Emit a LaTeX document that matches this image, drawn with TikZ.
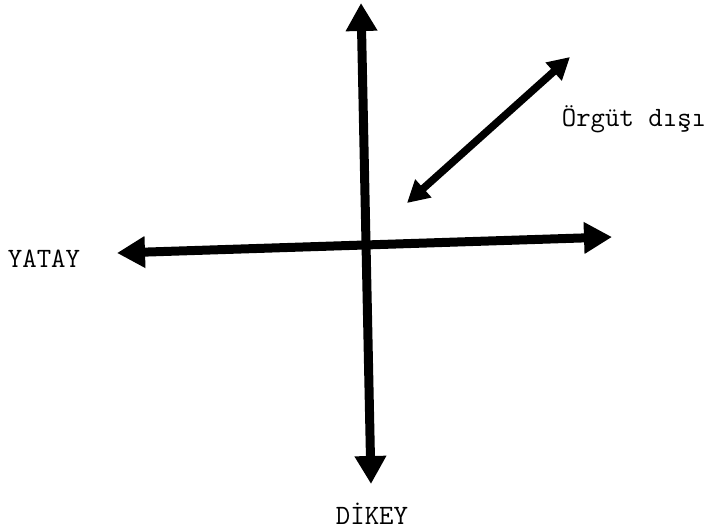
\documentclass[tikz,border=0pt]{standalone}
\usepackage{fontspec}
\usetikzlibrary{arrows.meta}

\begin{document}
\begin{tikzpicture}[x=1pt, y=-1pt,
	axis/.style={line width=9pt, {Triangle[length=28pt,width=30pt]}-{Triangle[length=28pt,width=30pt]}},
	link/.style={line width=7.5pt, {Triangle[length=22pt,width=23pt]}-{Triangle[length=22pt,width=23pt]}},
	lbl/.style={font=\fontsize{28}{32}\ttfamily, inner sep=1pt}]
	\useasboundingbox (0, 0) rectangle (717, 531);
	\coordinate (top) at (361, 3);
	\coordinate (bottom) at (371, 484);
	\coordinate (left) at (117, 253);
	\coordinate (right) at (612, 237);
	\coordinate (out1) at (407, 203);
	\coordinate (out2) at (570, 57);
	\draw [axis] (top) -- (bottom);
	\draw [axis] (left) -- (right);
	\draw [link] (out1) -- (out2);
	\node [lbl] (yatay) at (44, 259) {YATAY};
	\node [lbl] (dikey) at (372, 514) {DİKEY};
	\node [lbl] (disi) at (634, 119) {Örgüt dışı};
\end{tikzpicture}
\end{document}
